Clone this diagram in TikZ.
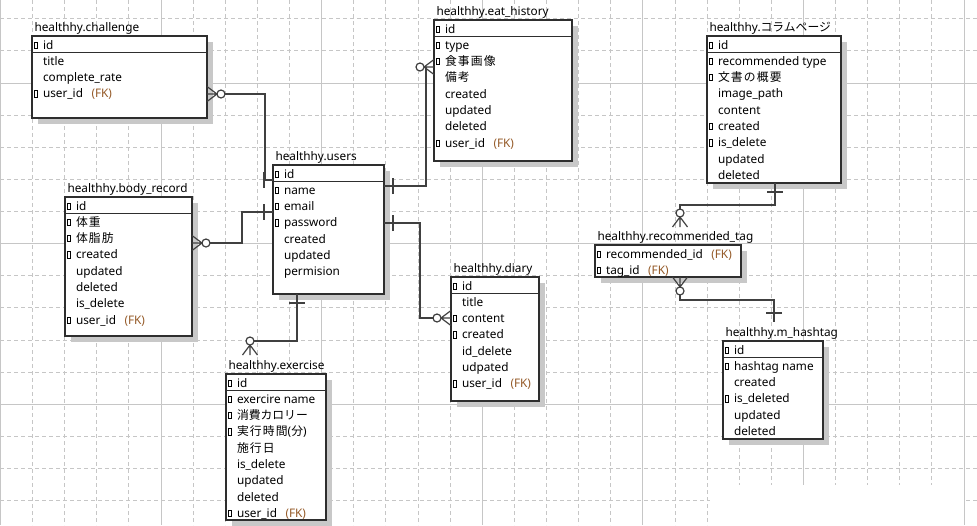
\documentclass[tikz,border=0pt]{standalone}
\usepackage{fontspec}
\setmainfont{Noto Sans}
\newfontfamily\jp[LetterSpace=10]{Noto Sans CJK JP}
\newfontfamily\jpk{Noto Sans CJK JP}
\usetikzlibrary{calc}

\definecolor{gridc}{HTML}{C6C6C6}
\definecolor{shadowc}{HTML}{C8C8C8}
\definecolor{boxc}{HTML}{2E2E2E}
\definecolor{connc}{HTML}{404040}
\definecolor{fkc}{HTML}{955A28}

\newcommand\fs{\fontsize{11.8}{14}\selectfont}
\newcommand\fk{\hspace{8.5pt}{\color{fkc}(FK)}}

\tikzset{
  tbox/.style={draw=boxc, line width=1.1pt, fill=white, inner sep=0pt, outer sep=0pt},
  ttitle/.style={inner sep=0pt, outer sep=0pt, font=\fs, text=black},
  fld/.style={inner sep=0pt, outer sep=0pt, font=\fs, text=black},
  keyic/.style={draw=black, line width=0.6pt},
  conn/.style={draw=connc, line width=1.2pt},
  sepline/.style={draw=boxc, line width=1.1pt},
  gridsolid/.style={draw=gridc, line width=0.8pt},
  griddash/.style={draw=gridc, line width=0.8pt, dash pattern=on 4pt off 3pt},
}

% table: name, left, top, width, height, title
\newcommand\ertable[6]{%
  \fill[shadowc] (#2+6,#3+6) rectangle (#2+6+#4,#3+6+#5);
  \node[tbox, anchor=north west, minimum width=#4pt, minimum height=#5pt] (#1) at (#2,#3) {};
  \node[ttitle, anchor=base west] (#1-title) at (#2+2.5,#3-4.5) {#6};
}
% line under the primary key
\newcommand\pksep[1]{\draw[sepline] ([shift={(0,16.5)}]#1.north west) -- ([shift={(0,16.5)}]#1.north east);}
% field row: table, index, text
\newcommand\erow[3]{\node[fld, anchor=base west] (#1-#2) at ([shift={(11,{13+16.3*#2})}]#1.north west) {#3};}
% key marker in front of a row
\newcommand\ekey[2]{\draw[keyic] ([shift={(2.6,{13+16.3*#2-1})}]#1.north west) rectangle ++(2.4,-6.2);}

% "many, optional" end: point on the table edge, unit vector pointing away
\newcommand\crowfoot[3]{%
  \draw[conn] ([shift={({-7.5*(#3)},{7.5*(#2)})}]#1) -- ([shift={({10*(#2)},{10*(#3)})}]#1)
              -- ([shift={({7.5*(#3)},{-7.5*(#2)})}]#1)
              (#1) -- ([shift={({10*(#2)},{10*(#3)})}]#1);
  \draw[conn, fill=white] ([shift={({14*(#2)},{14*(#3)})}]#1) circle[radius=4pt];}
% "exactly one" end: bar across the line
\newcommand\onebar[3]{%
  \draw[conn] ([shift={({9*(#2)-8*(#3)},{9*(#3)+8*(#2)})}]#1) -- ([shift={({9*(#2)+8*(#3)},{9*(#3)-8*(#2)})}]#1);}

\begin{document}
\begin{tikzpicture}[x=1pt,y=-1pt]
\useasboundingbox (0,0) rectangle (977,525);

% background grid
\begin{scope}
  \clip (0,0) rectangle (977,525);
  \foreach \k in {0,...,30} {
    \pgfmathtruncatemacro\m{mod(\k,5)}
    \ifnum\m=0
      \draw[gridsolid] ({0.4+32.12*\k},0) -- ({0.4+32.12*\k},525);
    \else
      \draw[griddash] ({0.4+32.12*\k},0) -- ({0.4+32.12*\k},525);
    \fi
  }
  \foreach \j in {0,...,15} {
    \pgfmathtruncatemacro\m{mod(\j,5)}
    \ifnum\m=2
      \draw[gridsolid] (0,{18.7+32.13*\j}) -- (977,{18.7+32.13*\j});
    \else
      \draw[griddash] (0,{18.7+32.13*\j}) -- (977,{18.7+32.13*\j});
    \fi
  }
\end{scope}
\fill[white] (709.5,485) rectangle (963.3,526);

% healthhy.challenge
\ertable{chal}{32}{36}{175}{82}{healthhy.challenge}
\pksep{chal}
\ekey{chal}{0}\erow{chal}{0}{id}
\erow{chal}{1}{title}
\erow{chal}{2}{complete\_rate}
\ekey{chal}{3}\erow{chal}{3}{user\_id\fk}

% healthhy.eat_history
\ertable{eat}{434}{20}{138}{141}{healthhy.eat\_history}
\pksep{eat}
\ekey{eat}{0}\erow{eat}{0}{id}
\ekey{eat}{1}\erow{eat}{1}{type}
\ekey{eat}{2}\erow{eat}{2}{{\jp 食事画像}}
\erow{eat}{3}{{\jp 備考}}
\erow{eat}{4}{created}
\erow{eat}{5}{updated}
\erow{eat}{6}{deleted}
\ekey{eat}{7}\erow{eat}{7}{user\_id\fk}

% healthhy.users
\ertable{users}{273}{165}{111}{129}{healthhy.users}
\pksep{users}
\ekey{users}{0}\erow{users}{0}{id}
\ekey{users}{1}\erow{users}{1}{name}
\ekey{users}{2}\erow{users}{2}{email}
\ekey{users}{3}\erow{users}{3}{password}
\erow{users}{4}{created}
\erow{users}{5}{updated}
\erow{users}{6}{permision}

% healthhy.body_record
\ertable{body}{65}{197}{127}{139}{healthhy.body\_record}
\pksep{body}
\ekey{body}{0}\erow{body}{0}{id}
\ekey{body}{1}\erow{body}{1}{{\jp 体重}}
\ekey{body}{2}\erow{body}{2}{{\jp 体脂肪}}
\ekey{body}{3}\erow{body}{3}{created}
\erow{body}{4}{updated}
\erow{body}{5}{deleted}
\erow{body}{6}{is\_delete}
\ekey{body}{7}\erow{body}{7}{user\_id\fk}

% healthhy.exercise
\ertable{exercise}{226}{374}{100}{146}{healthhy.exercise}
\pksep{exercise}
\ekey{exercise}{0}\erow{exercise}{0}{id}
\ekey{exercise}{1}\erow{exercise}{1}{exercire name}
\ekey{exercise}{2}\erow{exercise}{2}{{\jpk 消費カロリー}}
\ekey{exercise}{3}\erow{exercise}{3}{{\jp 実行時間}({\jpk 分})}
\erow{exercise}{4}{{\jp 施行日}}
\erow{exercise}{5}{is\_delete}
\erow{exercise}{6}{updated}
\erow{exercise}{7}{deleted}
\ekey{exercise}{8}\erow{exercise}{8}{user\_id\fk}

% healthhy.diary
\ertable{diary}{451}{277}{88}{124}{healthhy.diary}
\pksep{diary}
\ekey{diary}{0}\erow{diary}{0}{id}
\erow{diary}{1}{title}
\ekey{diary}{2}\erow{diary}{2}{content}
\ekey{diary}{3}\erow{diary}{3}{created}
\erow{diary}{4}{id\_delete}
\erow{diary}{5}{udpated}
\ekey{diary}{6}\erow{diary}{6}{user\_id\fk}

% healthhy.コラムページ
\ertable{col}{707}{36}{134}{147}{healthhy.{\jpk コラムページ}}
\pksep{col}
\ekey{col}{0}\erow{col}{0}{id}
\ekey{col}{1}\erow{col}{1}{recommended type}
\ekey{col}{2}\erow{col}{2}{{\jp 文書の概要}}
\erow{col}{3}{image\_path}
\erow{col}{4}{content}
\ekey{col}{5}\erow{col}{5}{created}
\ekey{col}{6}\erow{col}{6}{is\_delete}
\erow{col}{7}{updated}
\erow{col}{8}{deleted}

% healthhy.recommended_tag
\ertable{rtag}{595}{245}{146}{32}{healthhy.recommended\_tag}
\ekey{rtag}{0}\erow{rtag}{0}{recommended\_id\fk}
\ekey{rtag}{1}\erow{rtag}{1}{tag\_id\fk}

% healthhy.m_hashtag
\ertable{mhash}{723}{341}{100}{98}{healthhy.m\_hashtag}
\pksep{mhash}
\ekey{mhash}{0}\erow{mhash}{0}{id}
\ekey{mhash}{1}\erow{mhash}{1}{hashtag name}
\erow{mhash}{2}{created}
\ekey{mhash}{3}\erow{mhash}{3}{is\_deleted}
\erow{mhash}{4}{updated}
\erow{mhash}{5}{deleted}

% relationships
\coordinate (c1a) at ([shift={(0,58)}]chal.north east);
\coordinate (c1b) at ([shift={(0,15)}]users.north west);
\draw[conn] ([shift={(18,0)}]c1a) -| ([shift={(-8,0)}]c1b) -- (c1b);
\crowfoot{c1a}{1}{0}
\onebar{c1b}{-1}{0}

\coordinate (c2a) at ([shift={(0,46)}]body.north east);
\coordinate (c2b) at ([shift={(0,47)}]users.north west);
\draw[conn] ([shift={(18,0)}]c2a) -| ([shift={(-31,0)}]c2b) -- (c2b);
\crowfoot{c2a}{1}{0}
\onebar{c2b}{-1}{0}

\coordinate (c3a) at ([shift={(0,21)}]users.north east);
\coordinate (c3b) at ([shift={(0,47)}]eat.north west);
\draw[conn] (c3a) -| ([shift={(-8,0)}]c3b);
\onebar{c3a}{1}{0}
\crowfoot{c3b}{-1}{0}

\coordinate (c4a) at ([shift={(0,58)}]users.north east);
\coordinate (c4b) at ([shift={(0,41)}]diary.north west);
\draw[conn] (c4a) -- ++(36,0) |- ([shift={(-18,0)}]c4b);
\onebar{c4a}{1}{0}
\crowfoot{c4b}{-1}{0}

\coordinate (c5a) at ([shift={(24,0)}]users.south west);
\coordinate (c5b) at ([shift={(24,-19)}]exercise.north west);
\draw[conn] (c5a) |- ([shift={(4,-14)}]c5b);
\onebar{c5a}{0}{1}
\crowfoot{c5b}{0}{-1}

\coordinate (c6a) at ([shift={(68,0)}]col.south west);
\coordinate (c6b) at ([shift={(85,-18)}]rtag.north west);
\draw[conn] (c6a) -- ++(0,22) -| ([shift={(0,-18)}]c6b);
\onebar{c6a}{0}{1}
\crowfoot{c6b}{0}{-1}

\coordinate (c7a) at ([shift={(85,0)}]rtag.south west);
\coordinate (c7b) at ([shift={(51,-19)}]mhash.north west);
\draw[conn] ([shift={(0,18)}]c7a) -- ++(0,5) -| (c7b);
\crowfoot{c7a}{0}{1}
\onebar{c7b}{0}{-1}
\end{tikzpicture}
\end{document}
